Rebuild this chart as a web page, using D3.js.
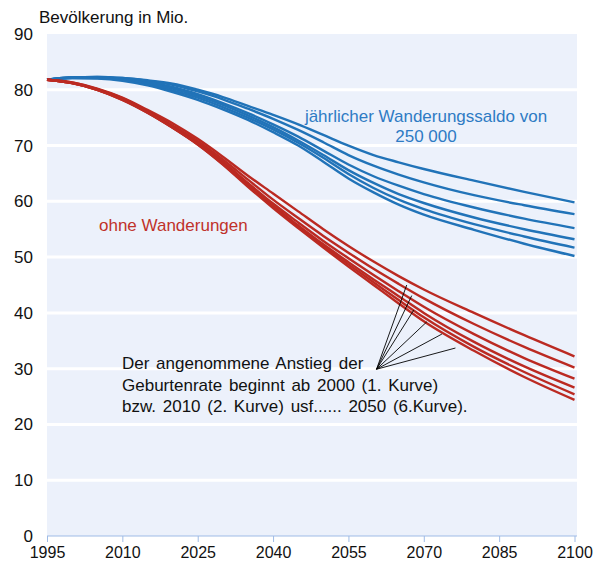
<!DOCTYPE html>
<html>
<head>
<meta charset="utf-8">
<script src="https://cdn.jsdelivr.net/npm/d3@7"></script>
<style>
  body { margin: 0; background: #fff; }
  text { font-family: "Liberation Sans", Arial, sans-serif; }
</style>
</head>
<body>
<div id="chart"></div>
<script>
// years sampled along every curve
var years = [1995, 2000, 2005, 2010, 2015, 2020, 2025, 2030, 2035, 2040, 2045, 2050, 2055, 2060, 2065, 2070, 2080, 2090, 2100];

// with yearly net migration of 250 000 (1. to 6. curve)
var blue1 = [81.8, 82.2, 82.3, 82.1, 81.7, 81.1, 80.0, 78.7, 77.1, 75.5, 73.8, 71.9, 70.0, 68.3, 67.0, 65.8, 63.7, 61.7, 59.8];
var blue2 = [81.8, 82.2, 82.3, 82.1, 81.6, 80.9, 79.7, 78.3, 76.6, 74.8, 72.8, 70.6, 68.3, 66.4, 64.8, 63.4, 61.1, 59.3, 57.7];
var blue3 = [81.8, 82.2, 82.2, 82.0, 81.4, 80.5, 79.2, 77.6, 75.8, 73.8, 71.6, 69.1, 66.6, 64.5, 62.8, 61.3, 58.9, 56.9, 55.2];
var blue4 = [81.8, 82.2, 82.2, 81.9, 81.2, 80.2, 78.9, 77.3, 75.4, 73.3, 70.9, 68.3, 65.6, 63.3, 61.3, 59.7, 57.1, 55.0, 53.2];
var blue5 = [81.8, 82.1, 82.1, 81.8, 81.0, 79.9, 78.6, 76.9, 75.0, 72.9, 70.5, 67.8, 64.9, 62.4, 60.3, 58.6, 55.9, 53.7, 51.7];
var blue6 = [81.8, 82.1, 82.0, 81.6, 80.8, 79.6, 78.2, 76.5, 74.6, 72.4, 70.0, 67.1, 64.1, 61.6, 59.4, 57.6, 54.9, 52.4, 50.2];

// without migration
var red1 = [81.8, 81.3, 80.2, 78.6, 76.4, 74.0, 71.2, 68.0, 64.6, 61.4, 58.2, 55.0, 52.0, 49.2, 46.6, 44.2, 40.0, 36.0, 32.2];
var red2 = [81.8, 81.3, 80.1, 78.5, 76.2, 73.6, 70.8, 67.5, 63.9, 60.3, 57.0, 53.8, 50.8, 47.9, 45.2, 42.6, 38.0, 33.9, 30.2];
var red3 = [81.8, 81.2, 80.1, 78.4, 76.1, 73.4, 70.5, 67.1, 63.3, 59.6, 56.2, 52.9, 49.8, 46.8, 43.9, 41.1, 36.2, 31.9, 28.2];
var red4 = [81.8, 81.2, 80.0, 78.3, 76.0, 73.3, 70.3, 66.9, 63.0, 59.2, 55.7, 52.3, 49.1, 46.0, 43.0, 40.0, 34.8, 30.4, 26.6];
var red5 = [81.8, 81.2, 80.0, 78.2, 75.9, 73.2, 70.2, 66.7, 62.8, 59.0, 55.4, 52.0, 48.7, 45.5, 42.3, 39.2, 33.9, 29.4, 25.4];
var red6 = [81.8, 81.2, 80.0, 78.2, 75.9, 73.2, 70.2, 66.6, 62.6, 58.8, 55.2, 51.7, 48.3, 45.0, 41.7, 38.5, 33.2, 28.5, 24.4];

var xTicks = [1995, 2010, 2025, 2040, 2055, 2070, 2085, 2100];
var yTicks = [0, 10, 20, 30, 40, 50, 60, 70, 80, 90];

// pointer lines of the note: common origin and the six ends on the red curves
var noteOrigin = [2060.6, 29.9];
var noteYears = [2066.6, 2067.6, 2068.0, 2070.6, 2073.6, 2076.3];
var noteValues = [45.0, 43.1, 40.5, 38.4, 36.2, 33.7];

var width = 600, height = 568,
    margin = {top: 34, right: 24, bottom: 32, left: 47};

var svg = d3.select("#chart").append("svg")
    .attr("width", width)
    .attr("height", height);

var x = d3.scaleLinear().domain([1995, 2100]).range([margin.left, 574.5]);
var y = d3.scaleLinear().domain([0, 90]).range([height - margin.bottom, margin.top]);

// plot background
svg.append("rect")
    .attr("x", margin.left)
    .attr("y", y(90))
    .attr("width", 577 - margin.left)
    .attr("height", y(0) - y(90))
    .style("fill", "#ECF1FB");

// white grid lines
svg.selectAll(".grid")
    .data(yTicks.filter(d => d > 0 && d < 90))
    .enter().append("line")
    .attr("x1", margin.left)
    .attr("x2", 577)
    .attr("y1", d => y(d))
    .attr("y2", d => y(d))
    .style("stroke", "#fff")
    .style("stroke-width", 3);

// x axis
var xAxis = svg.append("g")
    .attr("transform", `translate(0,${y(0)})`)
    .call(d3.axisBottom(x).tickValues(xTicks).tickFormat(d3.format("d")).tickSize(6).tickSizeOuter(0));
xAxis.select(".domain").style("stroke", "#9FBBE6").attr("d", `M${margin.left},0H577`);
xAxis.selectAll(".tick line").style("stroke", "#9FBBE6");
xAxis.selectAll(".tick text")
    .attr("y", 11)
    .style("font-size", "16px")
    .style("fill", "#111");

// y labels
var yAxis = svg.append("g")
    .attr("transform", `translate(${margin.left},0)`)
    .call(d3.axisLeft(y).tickValues(yTicks).tickSize(0).tickPadding(14));
yAxis.select(".domain").remove();
yAxis.selectAll(".tick text")
    .style("font-size", "17px")
    .style("fill", "#111");

var line = d3.line()
    .x((d, i) => x(years[i]))
    .y(d => y(d))
    .curve(d3.curveMonotoneX);

var blueSeries = [blue1, blue2, blue3, blue4, blue5, blue6];
var redSeries = [red1, red2, red3, red4, red5, red6];

svg.selectAll(".blue")
    .data(blueSeries)
    .enter().append("path")
    .attr("class", "blue")
    .attr("d", line)
    .style("fill", "none")
    .style("stroke", "#2173B8")
    .style("stroke-width", 2.4);

svg.selectAll(".red")
    .data(redSeries)
    .enter().append("path")
    .attr("class", "red")
    .attr("d", line)
    .style("fill", "none")
    .style("stroke", "#BB2A22")
    .style("stroke-width", 2.4);

// note pointers
svg.selectAll(".pointer")
    .data(noteYears)
    .enter().append("line")
    .attr("x1", x(noteOrigin[0]))
    .attr("y1", y(noteOrigin[1]))
    .attr("x2", d => x(d))
    .attr("y2", (d, i) => y(noteValues[i]))
    .style("stroke", "#000")
    .style("stroke-width", 0.9);

// texts
svg.append("text")
    .attr("x", 39)
    .attr("y", 22.5)
    .style("font-size", "17px")
    .style("fill", "#111")
    .text("Bevölkerung in Mio.");

svg.append("text")
    .attr("x", 426)
    .attr("y", 121.5)
    .attr("text-anchor", "middle")
    .style("font-size", "17px")
    .style("fill", "#2E7BC4")
    .text("jährlicher Wanderungssaldo von");
svg.append("text")
    .attr("x", 426)
    .attr("y", 141.5)
    .attr("text-anchor", "middle")
    .style("font-size", "17px")
    .style("fill", "#2E7BC4")
    .text("250 000");

svg.append("text")
    .attr("x", 99)
    .attr("y", 231)
    .style("font-size", "17px")
    .style("fill", "#C0322A")
    .text("ohne Wanderungen");

var note = ["Der angenommene Anstieg der",
            "Geburtenrate beginnt ab 2000 (1. Kurve)",
            "bzw. 2010 (2. Kurve) usf...... 2050 (6.Kurve)."];
svg.selectAll(".note")
    .data(note)
    .enter().append("text")
    .attr("x", 122)
    .attr("y", (d, i) => 369 + i * 21.5)
    .style("font-size", "17px")
    .style("word-spacing", "2px")
    .style("fill", "#111")
    .text(d => d);
</script>
</body>
</html>
